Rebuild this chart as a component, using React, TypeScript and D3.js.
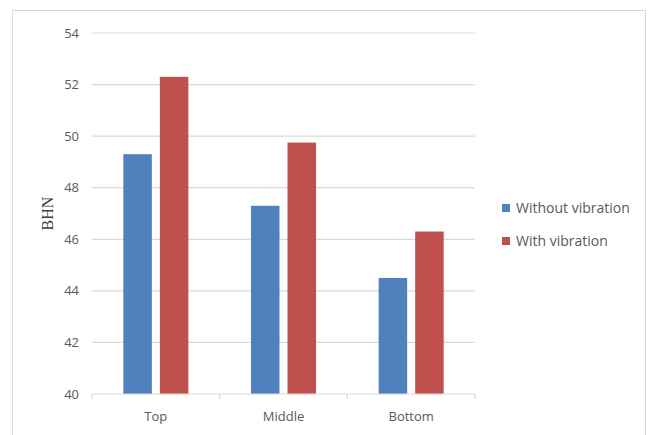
import React from "react";
import * as d3 from "d3";

const categories = ["Top", "Middle", "Bottom"];
const seriesNames = ["Without vibration", "With vibration"];
const withoutVibration = [49.3, 47.3, 44.5];
const withVibration = [52.3, 49.75, 46.3];
const yTicks = [40, 42, 44, 46, 48, 50, 52, 54];
const colors = ["#4F81BD", "#C0504D"];

export default function App() {
  const W = 649, H = 435;
  const left = 92, right = 475, top = 33, bottom = 394;
  const y = d3.scaleLinear().domain([40, 54]).range([bottom, top]);
  const x0 = d3.scaleBand().domain(categories).range([left, right]);
  const barW = 28.5, gap = 8;
  const series = [withoutVibration, withVibration];
  const font = "'Open Sans', 'Liberation Sans', sans-serif";
  return (
    <svg width={W} height={H} style={{ position: "absolute", left: 0, top: 0 }}>
      <rect x={0} y={0} width={W} height={H} fill="#fff" />
      <rect x={12.5} y={10.5} width={633} height={440} fill="#fff" stroke="#d9d9d9" />
      {yTicks.map((t) => (
        <g key={t}>
          {t !== 40 && (
            <line x1={left} x2={right} y1={y(t)} y2={y(t)} stroke="#d9d9d9" strokeWidth={1.2} />
          )}
          <text x={79} y={y(t)} dy="0.35em" textAnchor="end" fontSize={13} fill="#595959" fontFamily={font}>
            {t}
          </text>
        </g>
      ))}
      {series.map((vals, si) =>
        categories.map((c, ci) => {
          const cx = x0(c)! + x0.bandwidth() / 2;
          const bx = si === 0 ? cx - gap / 2 - barW : cx + gap / 2;
          return (
            <rect key={si + "-" + ci} x={bx} y={y(vals[ci])} width={barW} height={bottom - y(vals[ci])} fill={colors[si]} />
          );
        })
      )}
      <line x1={left} x2={right} y1={bottom} y2={bottom} stroke="#d9d9d9" strokeWidth={1.2} />
      {[0, 1, 2, 3].map((i) => {
        const xx = left + i * x0.step();
        return <line key={i} x1={xx} x2={xx} y1={bottom} y2={bottom + 5} stroke="#d9d9d9" strokeWidth={1.2} />;
      })}
      {categories.map((c) => (
        <text key={c} x={x0(c)! + x0.bandwidth() / 2} y={416} dy="0.35em" textAnchor="middle" fontSize={13} fill="#595959" fontFamily={font}>
          {c}
        </text>
      ))}
      <text transform={`translate(47,${(top + bottom) / 2}) rotate(-90)`} textAnchor="middle" dy="0.35em" fontSize={16} fill="#404040" fontFamily="'Liberation Serif', 'DejaVu Serif', serif">
        BHN
      </text>
      {seriesNames.map((n, i) => (
        <g key={n}>
          <rect x={502} y={204 + i * 33} width={8} height={8} fill={colors[i]} />
          <text x={516} y={208 + i * 33} dy="0.35em" fontSize={14} fill="#595959" fontFamily={font}>
            {n}
          </text>
        </g>
      ))}
    </svg>
  );
}
